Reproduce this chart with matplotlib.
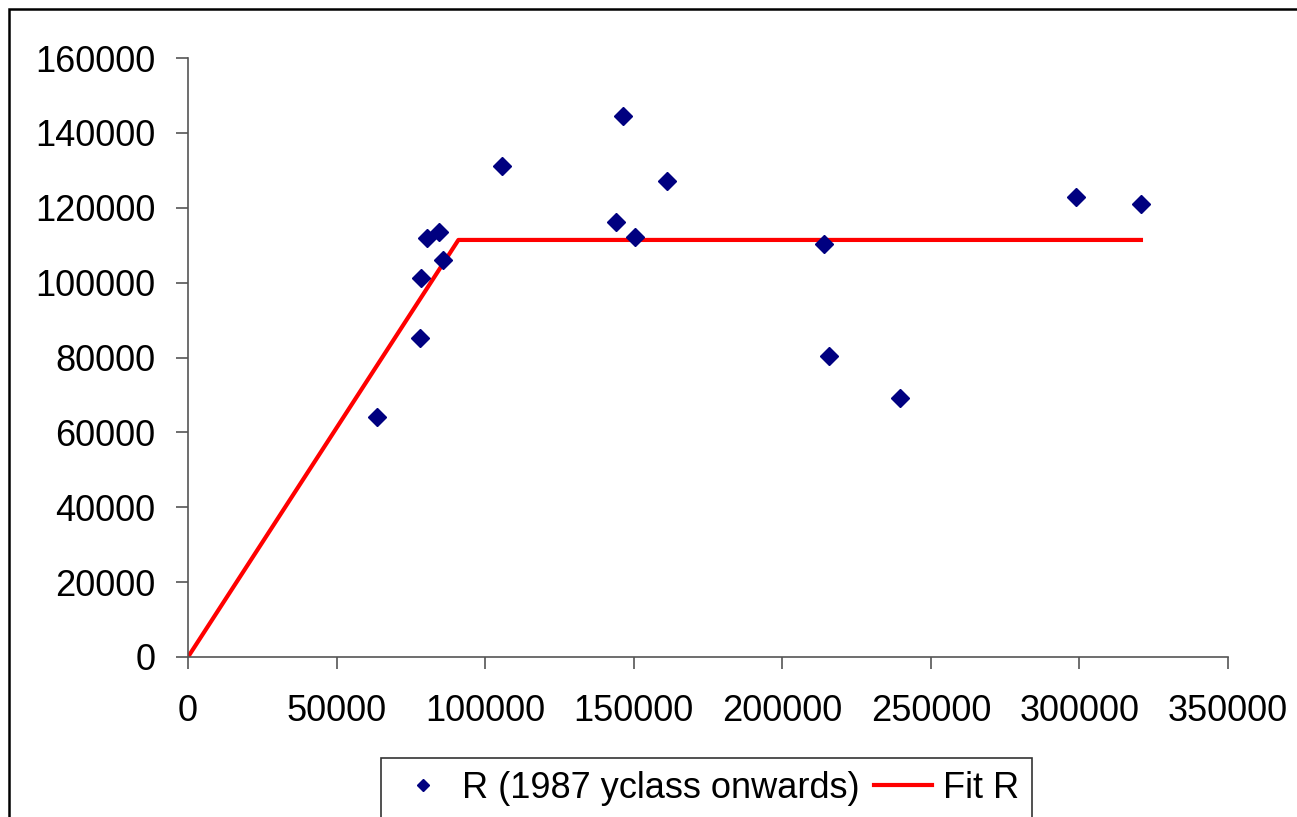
import numpy as np
import matplotlib
matplotlib.use("Agg")
from matplotlib import pyplot as plt
from matplotlib.patches import Rectangle

plt.rcParams['font.family'] = ['Liberation Sans', 'DejaVu Sans']

# spawning stock vs recruits, year classes from 1987
ssb = [63500, 78100, 78300, 80300, 84600, 85900, 105700, 144000,
       146500, 150500, 161300, 213900, 215800, 239600, 299000, 320700]
recruits = [64200, 85100, 101200, 111800, 113400, 106000, 131200, 116300,
            144600, 112300, 127100, 110300, 80500, 69300, 123000, 120900]

# hockey-stick fit
fit_ssb = [0, 91000, 320700]
fit_r = [0, 111400, 111400]

xticks = [0, 50000, 100000, 150000, 200000, 250000, 300000, 350000]
yticks = [0, 20000, 40000, 60000, 80000, 100000, 120000, 140000, 160000]

fig = plt.figure(figsize=(12.97, 8.17), dpi=100)
ax = fig.add_axes([188/1297, 160/817, 1040/1297, 599/817])

ax.plot(ssb, recruits, linestyle='none', marker='D', markersize=9.5,
        color='#000080', label='R (1987 yclass onwards)', zorder=3)
ax.plot(fit_ssb, fit_r, color='#ff0000', linewidth=3, label='Fit R', zorder=2)

ax.set_xlim(0, 350000)
ax.set_ylim(0, 160000)
ax.set_xticks(xticks)
ax.set_yticks(yticks)
ax.set_xticklabels([str(v) for v in xticks])
ax.set_yticklabels([str(v) for v in yticks])

for side in ['top', 'right']:
    ax.spines[side].set_visible(False)
for side in ['left', 'bottom']:
    ax.spines[side].set_color('#555555')
    ax.spines[side].set_linewidth(1.2)
ax.tick_params(axis='both', direction='out', length=8.5, width=1.2,
               color='#555555', labelsize=26, labelcolor='black')
ax.tick_params(axis='y', pad=15)
ax.tick_params(axis='x', pad=18)

leg = fig.legend(loc='upper center', bbox_to_anchor=(706.5/1297, 59/817),
                 ncol=2, fontsize=26, frameon=True, fancybox=False,
                 edgecolor='black', handlelength=1.6, handletextpad=0.3,
                 columnspacing=0.4, borderpad=0.35, borderaxespad=0,
                 markerscale=0.6)
leg.get_frame().set_linewidth(1.2)

# outer chart border
fig.patches.append(Rectangle((9/1297, -0.1), 1.2, 0.1 + 808/817,
                             transform=fig.transFigure, fill=False,
                             edgecolor='black', linewidth=1.8))

fig.savefig('out.png', dpi=100)
